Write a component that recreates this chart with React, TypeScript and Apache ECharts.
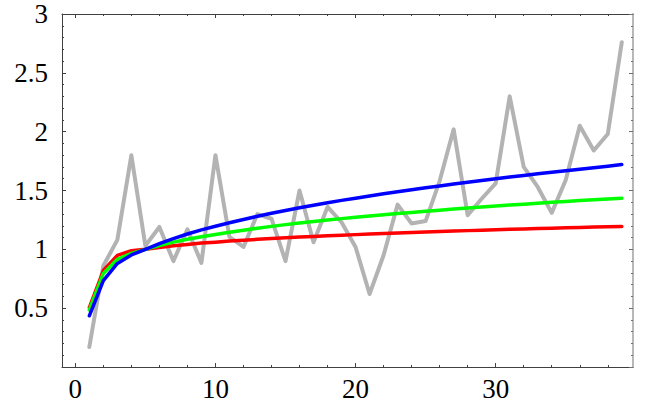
import React, { useEffect, useRef } from "react";
import * as echarts from "echarts";

const xValues = [1, 2, 3, 4, 5, 6, 7, 8, 9, 10, 11, 12, 13, 14, 15, 16, 17, 18, 19, 20, 21, 22, 23, 24, 25, 26, 27, 28, 29, 30, 31, 32, 33, 34, 35, 36, 37, 38, 39];

const observed = [0.17, 0.86, 1.08, 1.8, 1.03, 1.19, 0.9, 1.17, 0.885, 1.8, 1.105, 1.02, 1.3, 1.26, 0.9, 1.5, 1.06, 1.36, 1.23, 1.02, 0.62, 0.95, 1.38, 1.22, 1.24, 1.58, 2.02, 1.29, 1.43, 1.56, 2.3, 1.7, 1.53, 1.31, 1.59, 2.05, 1.84, 1.98, 2.76];

const redFit = [0.505, 0.82, 0.948, 0.988, 1.0, 1.016, 1.03, 1.042, 1.053, 1.061, 1.07, 1.078, 1.085, 1.092, 1.098, 1.104, 1.11, 1.115, 1.12, 1.125, 1.13, 1.135, 1.139, 1.143, 1.147, 1.151, 1.155, 1.159, 1.162, 1.166, 1.17, 1.173, 1.177, 1.18, 1.183, 1.186, 1.189, 1.192, 1.195];

const greenFit = [0.485, 0.795, 0.915, 0.966, 1.0, 1.033, 1.061, 1.086, 1.107, 1.126, 1.145, 1.163, 1.18, 1.195, 1.21, 1.224, 1.237, 1.249, 1.261, 1.272, 1.283, 1.294, 1.304, 1.314, 1.324, 1.333, 1.342, 1.351, 1.36, 1.368, 1.376, 1.384, 1.392, 1.4, 1.407, 1.414, 1.421, 1.428, 1.435];

const blueFit = [0.435, 0.735, 0.88, 0.952, 1.0, 1.048, 1.091, 1.13, 1.165, 1.196, 1.226, 1.254, 1.281, 1.306, 1.33, 1.353, 1.375, 1.396, 1.416, 1.435, 1.454, 1.472, 1.49, 1.507, 1.523, 1.539, 1.555, 1.57, 1.585, 1.6, 1.614, 1.628, 1.642, 1.655, 1.668, 1.681, 1.694, 1.707, 1.72];

const xMajorTicks = [0, 10, 20, 30];
const xMinorTicks = [2, 4, 6, 8, 12, 14, 16, 18, 22, 24, 26, 28, 32, 34, 36, 38];

const pairs = (ys: number[]) => xValues.map((x, i) => [x, ys[i]]);

export default function App() {
  const ref = useRef<HTMLDivElement>(null);
  useEffect(() => {
    const chart = echarts.init(ref.current!, null, { renderer: "svg" });
    const font = "Liberation Serif";
    const dark = "#404040";
    const frameGray = "#b8b8b8";
    const xBase = {
      type: "value",
      min: -0.95,
      max: 39.8,
      splitLine: { show: false },
      minorSplitLine: { show: false },
      minorTick: { show: false },
    };
    const yBase = {
      type: "value",
      min: 0,
      max: 3,
      interval: 0.5,
      splitLine: { show: false },
      minorSplitLine: { show: false },
    };
    const label = { color: "#000000", fontSize: 27, fontFamily: font };
    const line = (ys: number[], color: string, width: number, z: number) => ({
      type: "line",
      data: pairs(ys),
      xAxisIndex: 0,
      yAxisIndex: 0,
      showSymbol: false,
      symbol: "none",
      z,
      lineStyle: { color, width, join: "round", cap: "round" },
    });
    chart.setOption({
      animation: false,
      backgroundColor: "#ffffff",
      grid: { left: 62, right: 21, top: 14, bottom: 37, containLabel: false },
      xAxis: [
        {
          ...xBase,
          position: "bottom",
          axisLine: { show: true, onZero: false, lineStyle: { color: dark, width: 1 } },
          axisTick: { show: true, inside: true, length: 4, customValues: xMajorTicks, lineStyle: { color: dark } },
          axisLabel: { show: true, customValues: xMajorTicks, margin: 8, ...label },
        },
        {
          ...xBase,
          position: "bottom",
          axisLine: { show: false, onZero: false },
          axisTick: { show: true, inside: true, length: 2, customValues: xMinorTicks, lineStyle: { color: dark } },
          axisLabel: { show: false },
        },
        {
          ...xBase,
          position: "top",
          axisLine: { show: true, onZero: false, lineStyle: { color: dark, width: 1 } },
          axisTick: { show: true, inside: true, length: 4, customValues: xMajorTicks, lineStyle: { color: dark } },
          axisLabel: { show: false },
        },
        {
          ...xBase,
          position: "top",
          axisLine: { show: false, onZero: false },
          axisTick: { show: true, inside: true, length: 2, customValues: xMinorTicks, lineStyle: { color: dark } },
          axisLabel: { show: false },
        },
      ],
      yAxis: [
        {
          ...yBase,
          position: "left",
          axisLine: { show: true, onZero: false, lineStyle: { color: dark, width: 1 } },
          axisTick: { show: true, inside: true, length: 4, lineStyle: { color: dark } },
          minorTick: { show: true, splitNumber: 5, length: 2, lineStyle: { color: dark } },
          axisLabel: { show: true, showMinLabel: false, margin: 14, ...label },
        },
        {
          ...yBase,
          position: "right",
          axisLine: { show: true, onZero: false, lineStyle: { color: frameGray, width: 2 } },
          axisTick: { show: true, inside: true, length: 4, lineStyle: { color: "#707070" } },
          minorTick: { show: true, splitNumber: 5, length: 2, lineStyle: { color: "#707070" } },
          axisLabel: { show: false },
        },
      ],
      series: [
        line(observed, "#b3b3b3", 4, 2),
        line(redFit, "#ff0000", 3.5, 3),
        line(greenFit, "#00ff00", 3.5, 4),
        line(blueFit, "#0000ff", 3.5, 5),
      ],
    });
    return () => chart.dispose();
  }, []);
  return (
    <div
      ref={ref}
      style={{ position: "absolute", left: 0, top: 0, width: 654, height: 404 }}
    />
  );
}
